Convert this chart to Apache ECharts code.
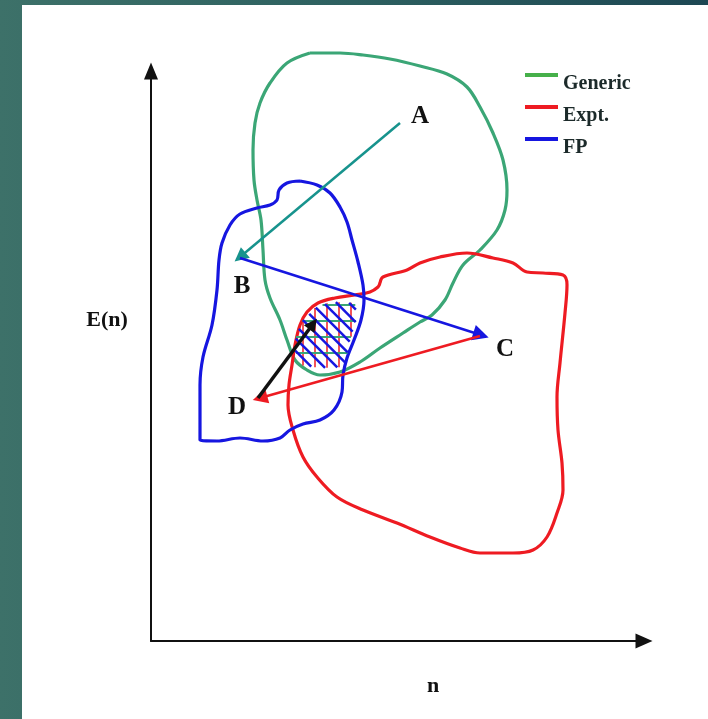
<!DOCTYPE html>
<html lang="en">
  <head>
    <meta charset="UTF-8" />
    <meta name="viewport" content="width=device-width, initial-scale=1.0" />
    <title>E(n) vs n</title>
    <script src="https://cdn.jsdelivr.net/npm/echarts@6/dist/echarts.min.js"></script>
    <style>
      html, body { margin: 0; padding: 0; }
      body {
        width: 708px; height: 719px; position: relative; overflow: hidden;
        background: linear-gradient(90deg, #3d7169 0%, #2d6060 50%, #1d4753 100%);
      }
      .paper { position: absolute; left: 22px; top: 5px; right: 0; bottom: 0; background: #fff; }
      .echarts { position: absolute; left: 0; top: 0; width: 708px; height: 719px; }
    </style>
  </head>
  <body>
    <div class="paper"></div>
    <div class="echarts"></div>
    <script>
        // contours, as [n, E(n)] pairs (axis units)
        const generic = [
            [159,588],[189,588],[212,586],[239,582],[269,575],[296,567],[316,554],[329,534],
            [342,508],[352,481],[356,451],[354,431],[346,411],[329,391],[312,376],[302,358],
            [294,341],[281,326],[269,319],[252,308],[229,293],[209,279],[189,269],[169,266],
            [156,271],[144,281],[136,301],[129,321],[119,343],[114,361],[112,391],[110,421],
            [106,441],[103,461],[102,491],[104,518],[109,538],[119,558],[136,578],[159,588]
        ]
        const expt = [
            [229,358],[232,364],[256,371],[269,378],[289,384],[316,388],[342,383],[362,378],
            [376,369],[392,368],[412,366],[416,356],[414,328],[409,278],[406,244],[407,211],
            [411,178],[412,151],[406,128],[396,104],[382,91],[362,88],[329,88],[309,93],
            [279,104],[246,118],[212,131],[186,144],[166,164],[152,184],[142,211],[137,236],
            [138,256],[141,276],[144,296],[149,316],[156,329],[167,338],[184,343],[204,346],
            [219,349],[227,354],[229,358]
        ]
        const fp = [
            [149,460],[166,456],[179,448],[189,434],[196,419],[201,401],[207,379],[212,356],
            [213,341],[210,321],[203,301],[196,283],[192,266],[191,249],[183,231],[169,221],
            [152,217],[139,211],[129,203],[112,200],[89,203],[66,200],[49,201],[49,231],
            [49,256],[52,284],[61,316],[66,351],[68,381],[71,398],[79,416],[89,427],
            [106,433],[119,436],[126,441],[128,451],[136,458],[149,460]
        ]
        // region shared by all three sets (hatched)
        const overlap = [
            [179,339],[204,338],[206,323],[199,301],[194,274],[169,273],
            [149,276],[144,291],[145,306],[152,321],[164,333]
        ]

        // arrows A -> B -> C -> D -> overlap
        const pathAB = [[249,518],[89,384]]
        const pathBC = [[89,383],[330,306]]
        const pathCD = [[329,305],[109,243]]
        const pathDX = [[107,243],[162,317]]

        const pointNames = ['A', 'B', 'C', 'D']
        const pointPos = [[269,524],[91,354],[354,291],[86,233]]
        const axisTitles = ['n', 'E(n)']
        const axisTitlePos = [[282,-45],[-44,321]]

        const seriesNames = ['Generic', 'Expt.', 'FP']

        const serif = '"Liberation Serif", "DejaVu Serif", serif'
        const contourColors = ['#3ba676', '#ee1b22', '#1616e0']
        const legendColors = ['#46b04a', '#ee1b22', '#1616e0']

        // cut parallel lines at angle `a` (screen radians) to the polygon pts
        function hatchLines(pts, a, gap, phase) {
            const d = [Math.cos(a), Math.sin(a)]
            const nv = [-d[1], d[0]]
            const u = pts.map(p => p[0] * d[0] + p[1] * d[1])
            const v = pts.map(p => p[0] * nv[0] + p[1] * nv[1])
            const vmin = Math.min(...v), vmax = Math.max(...v)
            const segs = []
            for (let c = vmin + phase; c < vmax; c += gap) {
                const hits = []
                for (let i = 0; i < pts.length; i++) {
                    const j = (i + 1) % pts.length
                    if ((v[i] <= c) !== (v[j] <= c)) {
                        const t = (c - v[i]) / (v[j] - v[i])
                        hits.push(u[i] + t * (u[j] - u[i]))
                    }
                }
                hits.sort((p, q) => p - q)
                for (let k = 0; k + 1 < hits.length; k += 2) {
                    segs.push([hits[k], hits[k + 1]].map(s => [s * d[0] + c * nv[0], s * d[1] + c * nv[1]]))
                }
            }
            return segs
        }

        const hatchSets = [
            {angle: Math.PI / 2, gap: 12, phase: 6, color: '#ee1b22', width: 1.5},
            {angle: 0, gap: 16, phase: 3, color: '#3ba676', width: 2},
            {angle: Math.PI / 4, gap: 9, phase: 4, color: '#1616e0', width: 2.5}
        ]

        const myCharts = echarts.init(document.querySelector('.echarts'))

        const contourSeries = [generic, expt, fp].map((pts, i) => ({
            name: seriesNames[i],
            type: 'line',
            data: pts,
            smooth: 0.35,
            symbol: 'none',
            clip: false,
            lineStyle: {color: contourColors[i], width: 3.2},
            itemStyle: {color: contourColors[i]},
            z: 2 + i
        }))

        const arrowSeries = [
            [pathAB, '#17938d', 2.5, [12, 14]],
            [pathBC, '#1616e0', 2.5, [12, 16]],
            [pathCD, '#ee1b22', 2.5, [12, 15]],
            [pathDX, '#111111', 3.5, [11, 13]]
        ].map(([coords, color, w, size]) => ({
            type: 'lines',
            coordinateSystem: 'cartesian2d',
            symbol: ['none', 'triangle'],
            symbolSize: size,
            silent: true,
            z: 10,
            lineStyle: {color: color, width: w, opacity: 1},
            data: [{coords: coords}]
        }))

        const option = {
            animation: false,
            backgroundColor: 'transparent',
            grid: {left: 151, right: 64, top: 71, bottom: 78},
            xAxis: {
                type: 'value', min: 0, max: 493,
                splitLine: {show: false}, axisTick: {show: false}, axisLabel: {show: false},
                axisLine: {show: true, symbol: ['none', 'triangle'], symbolSize: [15, 17],
                    lineStyle: {color: '#111', width: 2}}
            },
            yAxis: {
                type: 'value', min: 0, max: 570,
                splitLine: {show: false}, axisTick: {show: false}, axisLabel: {show: false},
                axisLine: {show: true, symbol: ['none', 'triangle'], symbolSize: [14, 17],
                    lineStyle: {color: '#111', width: 2}}
            },
            legend: {
                orient: 'vertical',
                left: 520,
                top: 68,
                icon: 'rect',
                itemWidth: 33,
                itemHeight: 4,
                itemGap: 11,
                data: seriesNames.map((n, i) => ({name: n, itemStyle: {color: legendColors[i]}})),
                formatter: '{t|{name}}',
                textStyle: {
                    rich: {
                        t: {
                            fontFamily: serif, fontWeight: 'bold', fontSize: 20, color: '#1c2a2a',
                            padding: [18, 0, 0, 0]
                        }
                    }
                }
            },
            series: [
                ...contourSeries,
                {
                    type: 'custom',
                    clip: false,
                    silent: true,
                    z: 8,
                    data: [[0, 0]],
                    renderItem: (params, api) => {
                        const pts = overlap.map(p => api.coord(p))
                        const children = []
                        hatchSets.forEach(h => {
                            hatchLines(pts, h.angle, h.gap, h.phase).forEach(s => {
                                children.push({
                                    type: 'line',
                                    shape: {x1: s[0][0], y1: s[0][1], x2: s[1][0], y2: s[1][1]},
                                    style: {stroke: h.color, lineWidth: h.width}
                                })
                            })
                        })
                        return {type: 'group', children: children}
                    }
                },
                ...arrowSeries,
                {
                    type: 'scatter',
                    symbolSize: 0,
                    clip: false,
                    silent: true,
                    z: 12,
                    itemStyle: {opacity: 1},
                    data: pointNames.map((t, i) => ({value: pointPos[i], label: {formatter: t}}))
                        .concat(axisTitles.map((t, i) => ({
                            value: axisTitlePos[i],
                            label: {formatter: t, fontSize: 22}
                        }))),
                    label: {
                        show: true, position: 'inside', opacity: 1,
                        fontFamily: serif, fontWeight: 'bold', fontSize: 25, color: '#111'
                    }
                }
            ]
        }

        myCharts.setOption(option)
    </script>
  </body>
</html>
